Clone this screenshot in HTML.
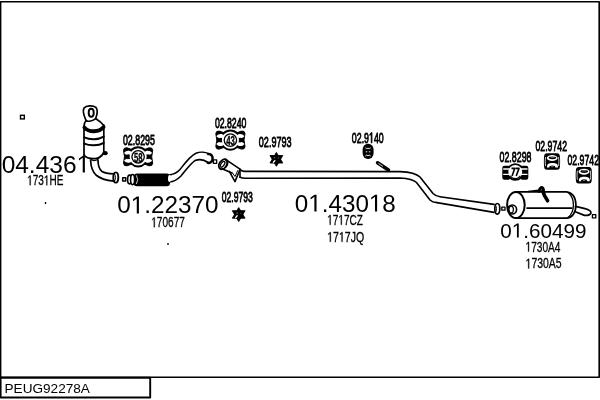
<!DOCTYPE html>
<html><head><meta charset="utf-8">
<style>
html,body{margin:0;padding:0;background:#fff;width:600px;height:400px;overflow:hidden}
svg{display:block;will-change:transform}
text{font-family:"Liberation Sans",sans-serif;fill:#000}
.big{font-size:24px}
.sm{font-size:12.5px}
.pn{font-size:14px}
</style></head><body>
<svg width="600" height="400" viewBox="0 0 600 400">
<g fill="none" stroke="#000" stroke-width="1.6" stroke-linejoin="round" stroke-linecap="round">
  <!-- border -->
  <path d="M0.6 1.8 H599.2 V377.2 H0.6 Z" stroke-linecap="butt"/>
  <rect x="0.6" y="377.8" width="149.6" height="19.7" stroke-width="1.9"/>
</g>


<!-- ===== catalyst ===== -->
<g fill="none" stroke="#000" stroke-width="1.7" stroke-linejoin="round" stroke-linecap="round">
  <!-- loop -->
  <path d="M86 120.5 C84 116 82.5 111 84 108 C86 105.5 93 105 96 107.5 C98 110 97 115 95.6 118.5"/>
  <ellipse cx="91.2" cy="112.8" rx="2.5" ry="4" stroke-width="2"/>
  <!-- neck / top face -->
  <path d="M86 120.5 C88 122 93 121 95.6 118.5 C98 120 101 122 103.8 125.5"/>
  <path d="M86 120.5 C84.5 122 84 124 84 127"/>
  <!-- body sides -->
  <path d="M84 126 V155"/>
  <path d="M103.8 125 V152.5"/>
  <path d="M84 155 C86 158 91 158.8 95 158.6 C99 158.4 102 156 103.8 152.5"/>
  <path d="M89.8 158.4 C91.5 161.2 96.5 161.4 98.5 158.4" stroke-width="1.4"/>
  <!-- bands -->
  <path d="M84.4 127.4 C89 132.6 99 132.6 103.6 127" stroke-width="3.8"/>
  <path d="M84.2 137.4 C90 140 98 140 103.8 136.6" stroke-width="1.9"/>
  <path d="M84.2 143.6 C90 146 98 146 103.8 142.8" stroke-width="1.9"/>
  <!-- bend pipe -->
  <path d="M90.6 160.5 C90.8 166 92 171 96 175 C100 178.5 106 180.5 113.8 181.2"/>
  <path d="M98 160 C98 165 99 169 102 171.5 C105 173.3 109 173.6 113.8 173.8"/>
  <!-- flange -->
  <ellipse cx="115.8" cy="177.5" rx="2.5" ry="5.1" stroke-width="1.9"/>
  <path d="M114.6 173.8 C115.8 175.5 115.8 179.5 114.6 181.2" stroke-width="1"/>
</g>
<ellipse cx="105.2" cy="153.2" rx="2.6" ry="2.1" fill="#000"/>
<rect x="20.5" y="115.3" width="3.8" height="3.6" fill="none" stroke="#000" stroke-width="1.4"/>
<rect x="44.8" y="202" width="1.4" height="2" fill="#000"/>
<rect x="167" y="243" width="2" height="2" fill="#555"/>

<!-- ===== front pipe 01.22370 ===== -->
<g fill="none" stroke="#000" stroke-width="1.6" stroke-linejoin="round" stroke-linecap="round">
  <rect x="122.7" y="177.7" width="3" height="3.3" stroke-width="1.5"/>

  <!-- curved pipe -->
  <path d="M169.4 175 C172 174.5 176 174 180 169.5 C185 163 190 156 196 153.2 C200 151.6 206 152 210 154.4"/>
  <path d="M169.4 181.9 C172 181.8 177 180 181 176 C186 170 190 164 195 160.6 C199 159 204 159.5 208 162.5"/>
  <path d="M208.2 154 C211.5 153.6 212.8 156.5 212.6 158.8 C212.4 161.2 210.8 163.4 207.8 162.8" stroke-width="2.5"/>
  <rect x="213.4" y="159.8" width="3.3" height="3.5" stroke-width="1.3"/>
</g>
<rect x="133.6" y="173.4" width="36.5" height="12.9" rx="3.5" fill="#000"/>
<ellipse cx="169.5" cy="178.5" rx="1.5" ry="3.5" fill="#fff"/>
<path d="M136.3 175.3 Q139.2 179.6 136.3 184" fill="none" stroke="#fff" stroke-width="0.8"/>
<ellipse cx="129.6" cy="179.5" rx="2" ry="4.4" fill="#fff" stroke="#000" stroke-width="1.6"/>
<ellipse cx="132.6" cy="179.6" rx="2" ry="5.1" fill="#fff" stroke="#000" stroke-width="1.6"/>

<!-- ===== gaskets ===== -->
<defs>
<g id="gasket">
  <path d="M-14.6 -6.6 Q-14.4 -9.4 -11 -9 L-5 -6.8 L-5 6.8 L-11 9 Q-14.4 9.4 -14.6 6.6 L-13.6 0 Z" fill="#000" stroke="#000" stroke-width="1" stroke-linejoin="round"/>
  <path d="M14.6 -6.6 Q14.4 -9.4 11 -9 L5 -6.8 L5 6.8 L11 9 Q14.4 9.4 14.6 6.6 L13.6 0 Z" fill="#000" stroke="#000" stroke-width="1" stroke-linejoin="round"/>
  <circle cx="0" cy="0" r="9.6" fill="#fff" stroke="#000" stroke-width="2"/>
  <path d="M-14 -3.8 C-12 -6.6 -8 -6.8 -5.8 -4 C-8 -1.4 -12 -1.2 -14 -3.8 Z M-14 3.8 C-12 1.2 -8 1.4 -5.8 4 C-8 6.8 -12 6.6 -14 3.8 Z" fill="#fff"/>
  <path d="M14 -3.8 C12 -6.6 8 -6.8 5.8 -4 C8 -1.4 12 -1.2 14 -3.8 Z M14 3.8 C12 1.2 8 1.4 5.8 4 C8 6.8 12 6.6 14 3.8 Z" fill="#fff"/>
  <path d="M-9.6 -2.2 A9.6 9.6 0 0 0 -9.6 2.2 M9.6 -2.2 A9.6 9.6 0 0 1 9.6 2.2" fill="none" stroke="#000" stroke-width="2"/>
  <circle cx="0" cy="0" r="6.2" fill="#fff" stroke="#000" stroke-width="1.3"/>
</g>
</defs>
<use href="#gasket" x="138.1" y="156.8"/>
<text x="138.3" y="161.6" text-anchor="middle" style="font-size:13.5px;font-weight:bold" stroke="#000" stroke-width="0.35" textLength="8.6" lengthAdjust="spacingAndGlyphs">58</text>
<use href="#gasket" x="230.4" y="140.1"/>
<text x="230.6" y="144.9" text-anchor="middle" style="font-size:13.5px;font-weight:bold" stroke="#000" stroke-width="0.35" textLength="8.6" lengthAdjust="spacingAndGlyphs">43</text>

<!-- ===== stars ===== -->
<defs>
<g id="star">
  <path d="M0 -6.9 L6.4 3.7 L-6.4 3.7 Z M0 7 L-6.4 -3.8 L6.4 -3.8 Z" fill="#000" stroke="#000" stroke-width="0.9" stroke-linejoin="round"/>
  <ellipse cx="-2.3" cy="2.2" rx="1.9" ry="0.75" transform="rotate(-50 -2.3 2.2)" fill="#fff"/>
  <circle cx="-1.6" cy="-1.6" r="0.5" fill="#fff"/>
  <circle cx="2.2" cy="-1.4" r="0.45" fill="#fff"/>
</g>
</defs>
<use href="#star" x="276.4" y="159.3"/>
<use href="#star" x="238.7" y="214.5"/>

<!-- ===== mid pipe 01.43018 ===== -->
<g fill="none" stroke="#000" stroke-width="1.6" stroke-linejoin="round" stroke-linecap="round">
  <ellipse cx="223.2" cy="164.2" rx="3.7" ry="5.5" transform="rotate(35 223.2 164.2)" stroke-width="1.9"/>
  <ellipse cx="222.6" cy="164.3" rx="1.6" ry="3.3" transform="rotate(35 222.6 164.3)" stroke-width="1.3"/>
  <path d="M225.6 159.6 C227.5 161 227.6 164 226 166.5" stroke-width="1.8"/>
  <path d="M225.5 159.3 L240 169.2 C241 170.5 242 171.3 244 171.4 L400 171.6 C410 172 417 174 420 177 L433 193.5 C435.5 196 437 196.4 440 196.7 L494 204.4"/>
  <path d="M222 168.8 L232 173 M240 177.2 C241.5 178 243 178.2 246 178.2 L400 178 C408 178.5 414 180 416.5 182.5 L430 200 C432 202 434 202.4 437 202.6 L494 212.4"/>
  <path d="M240 169.2 L240 177.2"/>
  <path d="M229.3 171.4 L235 181.6 L240 169.5"/>
  <path d="M232.5 173 L235 176.5 L237.8 170.5" stroke-width="1"/>
  <!-- flange at 494 -->
  <ellipse cx="497.3" cy="208.8" rx="2.5" ry="5.3" stroke-width="1.7"/>
  <path d="M495.6 205 C496.8 206.5 496.8 211 495.6 212.6" stroke-width="1"/>
  <rect x="501.8" y="207.2" width="3.2" height="3" stroke-width="1.3"/>
</g>
<!-- hanger 02.9140 -->
<rect x="362.6" y="143.8" width="11" height="15.3" rx="5.2" ry="6" fill="#000"/>
<path d="M365.3 147.8 l1.5 1 l1.2 -0.8 l1.2 0.8 l1.5 -1 M365.8 151.8 h1.5 M368.8 151.8 h1.5 M365.3 156 l1.5 -1 l1.2 0.8 l1.2 -0.8 l1.5 1" fill="none" stroke="#fff" stroke-width="0.9"/>
<path d="M377.6 162.8 L388.4 170" stroke="#000" stroke-width="3.6" stroke-linecap="round"/>
<path d="M378.8 163.6 L382.6 166.2" stroke="#fff" stroke-width="0.8" stroke-linecap="round"/>

<!-- ===== muffler ===== -->
<g fill="none" stroke="#000" stroke-width="1.7" stroke-linejoin="round" stroke-linecap="round">
  <path d="M516 191.8 L566.5 191.8 C572 192.2 575.9 197 575.9 205 C575.9 213 572 217.8 566.5 218.2 L516 218.2"/>
  <path d="M568.2 192.6 C571.6 195.5 573.4 200 573.4 205 C573.4 210 571.6 214.5 568.2 217.4" stroke-width="1.3"/>
  <ellipse cx="515.9" cy="205" rx="8.8" ry="13.1" stroke-width="2"/>
  <ellipse cx="512.2" cy="209.5" rx="4.4" ry="4.5" stroke-width="1.6"/>
  <ellipse cx="511.2" cy="209.5" rx="2.2" ry="3.3" stroke-width="1.2"/>
  <path d="M527 208.1 L571.8 208.1"/>
  <path d="M575.5 206.4 L585 208.6 C589 209.6 591.6 211.4 590.9 213.1 C590.2 214.7 588 215.6 584.4 215.4 L575.3 211.8"/>
  <path d="M528.3 191.4 L538.5 190.3" stroke-width="1.5"/>
  <rect x="592.4" y="214.6" width="3.4" height="3.3" stroke-width="1.3"/>
</g>
<path d="M539 191.4 C539.8 188.6 540.8 187.4 542.2 187.6 C543.4 188 543.6 190 543.5 192" fill="none" stroke="#000" stroke-width="3" stroke-linecap="round"/>
<path d="M542.8 191 C543.5 194 545 197 547.6 200.8" fill="none" stroke="#000" stroke-width="3.6" stroke-linecap="round"/>

<!-- clamp 02.8298 -->
<rect x="502.3" y="165.8" width="8" height="14" rx="2.2" fill="#000"/>
<rect x="520.3" y="165.8" width="8" height="14" rx="2.2" fill="#000"/>
<circle cx="515.3" cy="172" r="7.9" fill="#fff" stroke="#000" stroke-width="1.9"/>
<path d="M503.2 169 h6.5 M503.2 174.4 h6.5 M521 169 h6.5 M521 174.4 h6.5" stroke="#fff" stroke-width="1.3"/>
<path d="M510.2 175.8 A6 6 0 0 0 520.4 175.8" fill="none" stroke="#000" stroke-width="1.2"/>
<path d="M511.5 168.4 h3.2 l-2.6 7.6 M515.6 168.4 h3.4 l-2.8 7.6" fill="none" stroke="#000" stroke-width="1.6" stroke-linejoin="round"/>

<!-- hangers 02.9742 -->
<defs>
<g id="hang">
  <path d="M-5 -8.3 H5 C7 -8.3 7.9 -7 7.9 -5 C8.2 -2 8.2 2 7.9 5 C7.9 7 7 8.3 5 8.3 H-5 C-7 8.3 -7.9 7 -7.9 5 C-8.2 2 -8.2 -2 -7.9 -5 C-7.9 -7 -7 -8.3 -5 -8.3 Z" fill="#000"/>
  <path d="M-6.4 -4.5 C-6.9 -1.5 -6.9 1.5 -6.4 4.5 M6.5 -4.5 C7 -1.5 7 1.5 6.5 4.5" fill="none" stroke="#fff" stroke-width="0.8"/>
  <ellipse cx="0.2" cy="-3.5" rx="5.4" ry="3" fill="#fff"/>
  <ellipse cx="0.4" cy="-3.7" rx="3.8" ry="1.4" fill="#000"/>
  <path d="M-1.5 -4.3 H2.5" stroke="#fff" stroke-width="0.5"/>
  <path d="M-5 6 C-5 2.2 -3 1.6 0.5 1.6 C4 1.6 6 2.2 6 6 Z" fill="#fff"/>
  <ellipse cx="0.3" cy="5.6" rx="3.1" ry="1.6" fill="#000"/>
  <path d="M-0.8 5.2 H1.4" stroke="#fff" stroke-width="0.5"/>
</g>
</defs>
<use href="#hang" x="552" y="161.5"/>
<use href="#hang" x="583.8" y="175.2"/>

<!--TEXTS-->
<g class="tg">
<text x="122.94" y="144.56" style="font-size:15px" stroke="#000" stroke-width="0.85" textLength="32.03" lengthAdjust="spacingAndGlyphs">02.8295</text>
</g>
<g class="tg">
<text x="214.88" y="127.58" style="font-size:15px" stroke="#000" stroke-width="0.85" textLength="31.56" lengthAdjust="spacingAndGlyphs">02.8240</text>
</g>
<g class="tg">
<text x="258.82" y="146.98" style="font-size:15px" stroke="#000" stroke-width="0.85" textLength="32.81" lengthAdjust="spacingAndGlyphs">02.9793</text>
</g>
<g class="tg">
<text x="221.72" y="202.40" style="font-size:15px" stroke="#000" stroke-width="0.85" textLength="31.15" lengthAdjust="spacingAndGlyphs">02.9793</text>
</g>
<g class="tg">
<text x="351.85" y="142.90" style="font-size:15px" stroke="#000" stroke-width="0.85" textLength="31.84" lengthAdjust="spacingAndGlyphs">02.9 40</text>
<path d="M515 0L696 0L696 1409L530 1409L197 1180L197 1010L515 1237Z" transform="translate(368.99 142.90) scale(0.00430 -0.00732)" stroke="#000" stroke-width="0.85" vector-effect="non-scaling-stroke"/>
</g>
<g class="tg">
<text x="499.50" y="161.50" style="font-size:15px" stroke="#000" stroke-width="0.85" textLength="32.01" lengthAdjust="spacingAndGlyphs">02.8298</text>
</g>
<g class="tg">
<text x="535.50" y="151.10" style="font-size:15px" stroke="#000" stroke-width="0.85" textLength="31.53" lengthAdjust="spacingAndGlyphs">02.9742</text>
</g>
<g class="tg">
<text x="567.50" y="165.24" style="font-size:15px" stroke="#000" stroke-width="0.85" textLength="31.53" lengthAdjust="spacingAndGlyphs">02.9742</text>
</g>
<g class="tg">
<text x="1.64" y="172.50" style="font-size:24.5px" textLength="88.55" lengthAdjust="spacingAndGlyphs">04.436 </text>
<path d="M515 0L696 0L696 1409L530 1409L197 1180L197 1010L515 1237Z" transform="translate(76.57 172.50) scale(0.01196 -0.01196)"/>
</g>
<g class="tg">
<text x="117.14" y="213.44" style="font-size:24.5px" textLength="101.39" lengthAdjust="spacingAndGlyphs">0 .22370</text>
<path d="M515 0L696 0L696 1409L530 1409L197 1180L197 1010L515 1237Z" transform="translate(130.66 213.44) scale(0.01187 -0.01196)"/>
</g>
<g class="tg">
<text x="294.82" y="211.52" style="font-size:24.5px" textLength="101.00" lengthAdjust="spacingAndGlyphs">0 .430 8</text>
<path d="M515 0L696 0L696 1409L530 1409L197 1180L197 1010L515 1237Z" transform="translate(308.29 211.52) scale(0.01182 -0.01196)"/>
<path d="M515 0L696 0L696 1409L530 1409L197 1180L197 1010L515 1237Z" transform="translate(368.89 211.52) scale(0.01182 -0.01196)"/>
</g>
<g class="tg">
<text x="500.26" y="237.58" style="font-size:20.6px" textLength="86.14" lengthAdjust="spacingAndGlyphs">0 .60499</text>
<path d="M515 0L696 0L696 1409L530 1409L197 1180L197 1010L515 1237Z" transform="translate(511.75 237.58) scale(0.01008 -0.01006)"/>
</g>
<g class="tg">
<text x="27.20" y="185.24" style="font-size:14px" stroke="#000" stroke-width="0.3" textLength="36.10" lengthAdjust="spacingAndGlyphs"> 73 HE</text>
<path d="M515 0L696 0L696 1409L530 1409L197 1180L197 1010L515 1237Z" transform="translate(27.20 185.24) scale(0.00488 -0.00684)" stroke="#000" stroke-width="0.3" vector-effect="non-scaling-stroke"/>
<path d="M515 0L696 0L696 1409L530 1409L197 1180L197 1010L515 1237Z" transform="translate(43.87 185.24) scale(0.00488 -0.00684)" stroke="#000" stroke-width="0.3" vector-effect="non-scaling-stroke"/>
</g>
<g class="tg">
<text x="151.29" y="227.22" style="font-size:14px" stroke="#000" stroke-width="0.3" textLength="33.54" lengthAdjust="spacingAndGlyphs"> 70677</text>
<path d="M515 0L696 0L696 1409L530 1409L197 1180L197 1010L515 1237Z" transform="translate(151.29 227.22) scale(0.00491 -0.00684)" stroke="#000" stroke-width="0.3" vector-effect="non-scaling-stroke"/>
</g>
<g class="tg">
<text x="327.20" y="224.72" style="font-size:14px" stroke="#000" stroke-width="0.3" textLength="35.67" lengthAdjust="spacingAndGlyphs"> 7 7CZ</text>
<path d="M515 0L696 0L696 1409L530 1409L197 1180L197 1010L515 1237Z" transform="translate(327.20 224.72) scale(0.00490 -0.00684)" stroke="#000" stroke-width="0.3" vector-effect="non-scaling-stroke"/>
<path d="M515 0L696 0L696 1409L530 1409L197 1180L197 1010L515 1237Z" transform="translate(338.35 224.72) scale(0.00490 -0.00684)" stroke="#000" stroke-width="0.3" vector-effect="non-scaling-stroke"/>
</g>
<g class="tg">
<text x="327.20" y="241.84" style="font-size:14px" stroke="#000" stroke-width="0.3" textLength="36.91" lengthAdjust="spacingAndGlyphs"> 7 7JQ</text>
<path d="M515 0L696 0L696 1409L530 1409L197 1180L197 1010L515 1237Z" transform="translate(327.20 241.84) scale(0.00515 -0.00684)" stroke="#000" stroke-width="0.3" vector-effect="non-scaling-stroke"/>
<path d="M515 0L696 0L696 1409L530 1409L197 1180L197 1010L515 1237Z" transform="translate(338.92 241.84) scale(0.00515 -0.00684)" stroke="#000" stroke-width="0.3" vector-effect="non-scaling-stroke"/>
</g>
<g class="tg">
<text x="525.58" y="251.60" style="font-size:14px" stroke="#000" stroke-width="0.3" textLength="34.90" lengthAdjust="spacingAndGlyphs"> 730A4</text>
<path d="M515 0L696 0L696 1409L530 1409L197 1180L197 1010L515 1237Z" transform="translate(525.58 251.60) scale(0.00494 -0.00684)" stroke="#000" stroke-width="0.3" vector-effect="non-scaling-stroke"/>
</g>
<g class="tg">
<text x="525.58" y="268.44" style="font-size:14px" stroke="#000" stroke-width="0.3" textLength="36.02" lengthAdjust="spacingAndGlyphs"> 730A5</text>
<path d="M515 0L696 0L696 1409L530 1409L197 1180L197 1010L515 1237Z" transform="translate(525.58 268.44) scale(0.00510 -0.00684)" stroke="#000" stroke-width="0.3" vector-effect="non-scaling-stroke"/>
</g>
<g class="tg">
<text x="4.52" y="393.18" style="font-size:13px" textLength="85.40" lengthAdjust="spacingAndGlyphs">PEUG92278A</text>
</g>
<!--/TEXTS-->
</svg>
</body></html>
